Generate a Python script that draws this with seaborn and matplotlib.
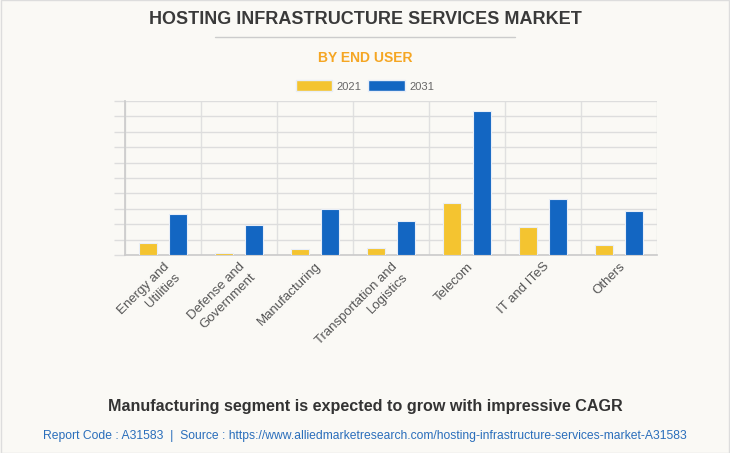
import pandas as pd
import matplotlib
matplotlib.use('Agg')
import matplotlib.pyplot as plt
import seaborn as sns
from matplotlib.patches import Rectangle, Patch
from matplotlib.lines import Line2D

# 数据 (按网格单位读数)
segments = ['Energy and\nUtilities', 'Defense and\nGovernment', 'Manufacturing',
            'Transportation and\nLogistics', 'Telecom', 'IT and ITeS', 'Others']
years = ['2021', '2031']
values_2021 = [0.80, 0.13, 0.37, 0.48, 3.35, 1.80, 0.65]
values_2031 = [2.64, 1.93, 3.01, 2.19, 9.35, 3.61, 2.86]

colors = ['#F4C430', '#1366C2']
bg = '#FAF9F5'

df = pd.DataFrame({
    'segment': segments * 2,
    'year': ['2021'] * len(segments) + ['2031'] * len(segments),
    'value': values_2021 + values_2031,
})

sns.set_theme(style='white')
plt.rcParams['font.family'] = ['Liberation Sans', 'DejaVu Sans']

fig = plt.figure(figsize=(7.3, 4.53), dpi=100, facecolor=bg)
ax = fig.add_axes([125 / 730, 1 - 255 / 453, 532 / 730, 154 / 453])
ax.set_facecolor(bg)

sns.barplot(data=df, x='segment', y='value', hue='year', palette=colors,
            saturation=1, width=0.8, gap=0.4, edgecolor='#e8eef8', linewidth=0.8,
            ax=ax, legend=False, zorder=3)

ax.set_ylim(0, 10)
ax.set_xlim(-0.5, len(segments) - 0.5)
ax.set_yticks(range(0, 11))
ax.set_yticklabels([])
ax.set_xlabel('')
ax.set_ylabel('')
ax.grid(axis='y', color='#dddddd', linewidth=1, zorder=0)
ax.set_xticks([i - 0.5 for i in range(len(segments) + 1)], minor=True)
ax.grid(axis='x', which='minor', color='#e0e0e0', linewidth=1, zorder=0)
ax.tick_params(axis='x', which='minor', length=7, color='#e0e0e0', width=1)
ax.tick_params(axis='x', which='major', length=0, pad=4)
ax.tick_params(axis='y', length=8, color='#dddddd', width=1, left=True)
for s in ['top', 'right']:
    ax.spines[s].set_visible(False)
ax.spines['left'].set_color('#cccccc')
ax.spines['bottom'].set_color('#cccccc')

ax.set_xticklabels(segments, rotation=45, ha='right', rotation_mode='anchor',
                   fontsize=9.5, color='#555555', multialignment='right', linespacing=1.35)

# 标题
fig.text(0.5, 1 - 20 / 453, 'HOSTING INFRASTRUCTURE SERVICES MARKET', ha='center', va='center',
         fontsize=13, fontweight='bold', color='#3a3a3a')
fig.add_artist(Line2D([215 / 730, 515 / 730], [1 - 37 / 453] * 2, color='#cccccc', linewidth=1))
fig.text(0.5, 1 - 58 / 453, 'BY END USER', ha='center', va='center',
         fontsize=10, fontweight='bold', color='#F5A623')

# 图例
handles = [Patch(facecolor=c, edgecolor='#e8eef8') for c in colors]
leg = fig.legend(handles, years, loc='center', bbox_to_anchor=(0.5, 1 - 86 / 453), ncol=2,
                 frameon=False, handlelength=3.3, handleheight=1.1, handletextpad=0.4,
                 columnspacing=0.6, prop={'size': 8})
for t in leg.get_texts():
    t.set_color('#666666')

# 底部说明
fig.text(0.5, 1 - 407 / 453, 'Manufacturing segment is expected to grow with impressive CAGR',
         ha='center', va='center', fontsize=11.6, fontweight='bold', color='#333333')
fig.text(0.5, 1 - 436 / 453,
         'Report Code : A31583  |  Source : https://www.alliedmarketresearch.com/hosting-infrastructure-services-market-A31583',
         ha='center', va='center', fontsize=8.7, color='#2a6ebb')

fig.add_artist(Rectangle((0.001, 0.001), 0.998, 0.998, transform=fig.transFigure,
                         fill=False, edgecolor='#dddddd', linewidth=1))

plt.savefig('out.png', dpi=100, facecolor=bg)
